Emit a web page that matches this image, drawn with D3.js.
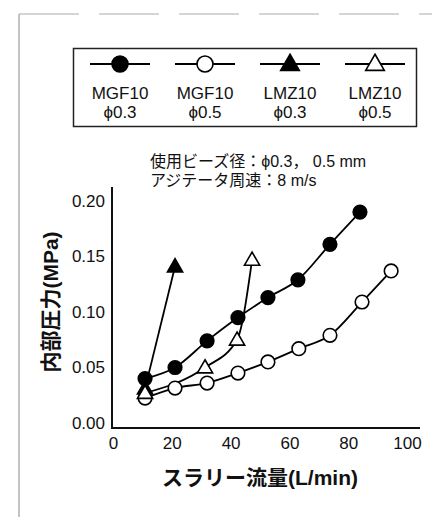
<!DOCTYPE html>
<html>
<head>
<meta charset="utf-8">
<script src="https://cdn.jsdelivr.net/npm/d3@7"></script>
<style>
  body { margin: 0; background: #fff; }
  svg { display: block; }
  text { font-family: "Liberation Sans", Arial, "Noto Sans CJK JP", sans-serif; fill: #111; }
</style>
</head>
<body>
<svg width="432" height="517"></svg>
<script>
// values
var mgf03 = [[10.9,0.040],[21.1,0.050],[32,0.074],[42.5,0.095],[52.7,0.113],[62.9,0.129],[73.8,0.161],[84,0.190]];
var mgf05 = [[10.9,0.0225],[21.1,0.0315],[32,0.036],[42.5,0.045],[52.7,0.055],[63.2,0.067],[73.8,0.079],[84.7,0.109],[94.6,0.137]];
var lmz03 = [[10.9,0.031],[21.1,0.141]];
var lmz05 = [[10.9,0.027],[31.3,0.050],[42.2,0.075],[47.3,0.147]];

var legendNames = ["MGF10", "MGF10", "LMZ10", "LMZ10"];
var legendSizes = ["\u03d50.3", "\u03d50.5", "\u03d50.3", "\u03d50.5"];
var xTicks = [0, 20, 40, 60, 80, 100];
var yTicks = [0, 0.05, 0.10, 0.15, 0.20];

var series = [
  {data: mgf03, shape: "circle", fill: "#000"},
  {data: mgf05, shape: "circle", fill: "#fff"},
  {data: lmz03, shape: "triangle", fill: "#000"},
  {data: lmz05, shape: "triangle", fill: "#fff"}
];

var svg = d3.select("svg");

// page frame (faint scan border)
svg.append("line").attr("x1", 19).attr("x2", 19).attr("y1", 14).attr("y2", 517)
  .attr("stroke", "#888").attr("stroke-width", 1);
svg.append("line").attr("x1", 19).attr("x2", 432).attr("y1", 14).attr("y2", 14)
  .attr("stroke", "#aaa").attr("stroke-width", 1).attr("stroke-dasharray", "60,20");

var x = d3.scaleLinear().domain([0, 100]).range([113, 407]);
var y = d3.scaleLinear().domain([-0.0045, 0.2]).range([428, 201]);

// axes
var gx = svg.append("g").attr("transform", "translate(0,428)")
  .call(d3.axisBottom(x).tickValues(xTicks).tickSize(0).tickPadding(9).tickFormat(d3.format("d")));
gx.select(".domain").remove();
svg.append("line").attr("x1", 112).attr("x2", 420).attr("y1", 428).attr("y2", 428)
  .attr("stroke", "#111").attr("stroke-width", 2);

var gy = svg.append("g").attr("transform", "translate(112,0)")
  .call(d3.axisLeft(y).tickValues(yTicks).tickSize(0).tickPadding(7).tickFormat(d3.format(".2f")));
gy.select(".domain").remove();
svg.append("line").attr("x1", 112).attr("x2", 112).attr("y1", 187).attr("y2", 429)
  .attr("stroke", "#111").attr("stroke-width", 2);

svg.selectAll(".tick text").style("font-size", "17px").style("font-family", "'Liberation Sans', Arial, sans-serif").attr("fill", "#111");

// axis titles
svg.append("text").attr("x", 260).attr("y", 485).attr("text-anchor", "middle")
  .style("font-size", "21px").style("font-weight", "bold")
  .text("スラリー流量(L/min)");
svg.append("text").attr("transform", "translate(58,302) rotate(-90)").attr("text-anchor", "middle")
  .style("font-size", "21px").style("font-weight", "bold")
  .text("内部圧力(MPa)");

// condition note
svg.append("text").attr("x", 150).attr("y", 167).style("font-size", "16px")
  .text("使用ビーズ径：\u03d50.3， 0.5 mm");
svg.append("text").attr("x", 150).attr("y", 186).style("font-size", "16px")
  .text("アジテータ周速：8 m/s");

var tri = d3.symbol().type(d3.symbolTriangle);

function drawMarker(g, s, cx, cy, big) {
  if (s.shape === "circle") {
    g.append("circle").attr("cx", cx).attr("cy", cy).attr("r", big ? 8 : 6.8)
      .attr("fill", s.fill).attr("stroke", "#000").attr("stroke-width", 1.6);
  } else {
    g.append("path").attr("d", tri.size(big ? 150 : 100)())
      .attr("transform", "translate(" + cx + "," + (cy + 1) + ")")
      .attr("fill", s.fill).attr("stroke", "#000").attr("stroke-width", 1.6);
  }
}

// lines
var line = d3.line().x(d => x(d[0])).y(d => y(d[1])).curve(d3.curveMonotoneX);
series.forEach(function(s) {
  svg.append("path").datum(s.data).attr("d", line)
    .attr("fill", "none").attr("stroke", "#000").attr("stroke-width", 1.8);
});
series.forEach(function(s) {
  var g = svg.append("g");
  s.data.forEach(function(d) { drawMarker(g, s, x(d[0]), y(d[1]), false); });
});

// legend
svg.append("rect").attr("x", 73.5).attr("y", 48.5).attr("width", 343).attr("height", 78)
  .attr("fill", "#fff").attr("stroke", "#222").attr("stroke-width", 1.5);
var legX = d3.scalePoint().domain(d3.range(4)).range([120, 375]);
series.forEach(function(s, i) {
  var cx = legX(i);
  var g = svg.append("g");
  g.append("line").attr("x1", cx - 30).attr("x2", cx + 30).attr("y1", 64).attr("y2", 64)
    .attr("stroke", "#000").attr("stroke-width", 2);
  drawMarker(g, s, cx, 64, true);
  g.append("text").attr("x", cx).attr("y", 99).attr("text-anchor", "middle")
    .style("font-size", "17px").text(legendNames[i]);
  g.append("text").attr("x", cx).attr("y", 118).attr("text-anchor", "middle")
    .style("font-size", "17px").text(legendSizes[i]);
});
</script>
</body>
</html>
